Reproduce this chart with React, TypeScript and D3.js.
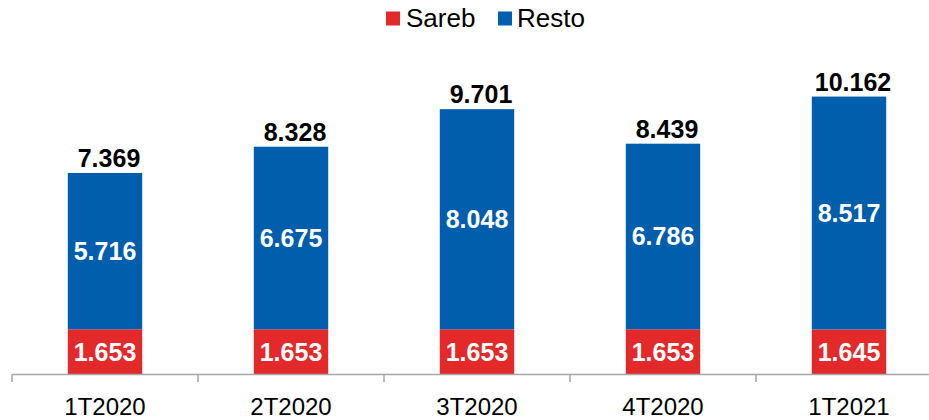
import React from "react";
import * as d3 from "d3";

const categories = ["1T2020", "2T2020", "3T2020", "4T2020", "1T2021"];
const sareb = [1653, 1653, 1653, 1653, 1645];
const resto = [5716, 6675, 8048, 6786, 8517];
const totals = [7369, 8328, 9701, 8439, 10162];
const seriesNames = ["Sareb", "Resto"];

const RED = "#E4292A";
const BLUE = "#005EAD";
const fmt = (v: number) => {
  const s = String(v);
  return s.length > 3 ? s.slice(0, s.length - 3) + "." + s.slice(s.length - 3) : s;
};

export default function App() {
  const W = 929;
  const H = 420;
  const x = d3.scaleBand<string>().domain(categories).range([12, 942]).padding(0);
  const y = d3.scaleLinear().domain([0, 11000]).range([374.5, 374.5 - 11000 * 0.02735]);
  const bw = x.bandwidth() * 0.4;
  const font = "Liberation Sans, Arial, sans-serif";
  const ticks = [...categories.map((c) => x(c)!), 942];

  return (
    <svg width={W} height={H} style={{ position: "absolute", left: 0, top: 0 }} fontFamily={font}>
      <rect width={W} height={H} fill="#fff" />
      {/* legend */}
      <g>
        <rect x={386} y={11.5} width={14} height={14} fill={RED} />
        <text x={406} y={27} fontSize={26} fill="#000">{seriesNames[0]}</text>
        <rect x={498} y={11.5} width={14} height={14} fill={BLUE} />
        <text x={517} y={27} fontSize={26} fill="#000">{seriesNames[1]}</text>
      </g>
      {categories.map((c, i) => {
        const cx = x(c)! + x.bandwidth() / 2;
        const y0 = y(0);
        const y1 = y(sareb[i]);
        const y2 = y(sareb[i] + resto[i]);
        return (
          <g key={c}>
            <rect x={cx - bw / 2} y={y1} width={bw} height={y0 - y1} fill={RED} />
            <rect x={cx - bw / 2} y={y2} width={bw} height={y1 - y2} fill={BLUE} />
            <text x={cx} y={(y0 + y1) / 2} dy="0.36em" textAnchor="middle" fontSize={25} fontWeight="bold" fill="#fff">
              {fmt(sareb[i])}
            </text>
            <text x={cx} y={(y1 + y2) / 2} dy="0.36em" textAnchor="middle" fontSize={25} fontWeight="bold" fill="#fff">
              {fmt(resto[i])}
            </text>
            <text x={cx + 4} y={y(totals[i]) - 6} textAnchor="middle" fontSize={25} fontWeight="bold" fill="#000">
              {fmt(totals[i])}
            </text>
            <text x={cx} y={415} textAnchor="middle" fontSize={24} fill="#000">
              {c}
            </text>
          </g>
        );
      })}
      <line x1={12} x2={942} y1={374.5} y2={374.5} stroke="#A6A6A6" strokeWidth={1.5} />
      {ticks.map((t, i) => (
        <line key={i} x1={t} x2={t} y1={374.5} y2={382} stroke="#A6A6A6" strokeWidth={1.5} />
      ))}
    </svg>
  );
}
